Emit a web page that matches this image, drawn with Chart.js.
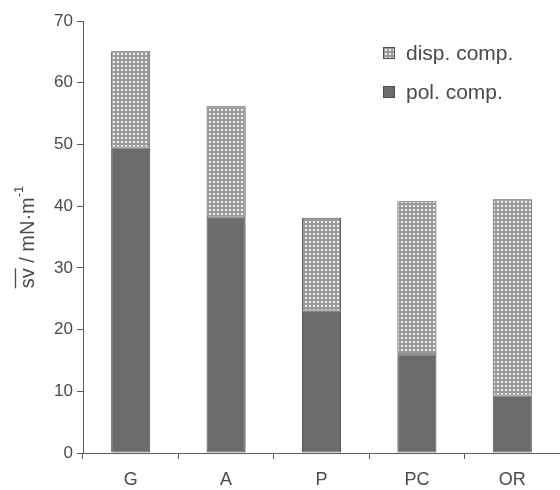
<!DOCTYPE html>
<html>
<head>
<meta charset="utf-8">
<script src="https://cdn.jsdelivr.net/npm/chart.js@4/dist/chart.umd.min.js"></script>
<style>
html,body{margin:0;padding:0;background:#fff;}
#wrap{width:560px;height:490px;}
</style>
</head>
<body>
<div id="wrap"><canvas id="c" width="560" height="490"></canvas></div>
<script>
// ---- data ----
const categories = ["G", "A", "P", "PC", "OR"];
const polComp  = [49.5, 38.1, 23.1, 16.0, 9.3];
const dispComp = [15.6, 18.1, 15.0, 24.8, 31.8];
const seriesLabels = ["pol. comp.", "disp. comp."];
const yTicks = [0, 10, 20, 30, 40, 50, 60, 70];
const yTitle = "sv / mN\u00B7m";
const yTitleSup = "-1";

// ---- styles ----
const TEXT = "#4a4a4a";
const AXIS = "#5a5a5a";
const DARK = "#6c6c6c";
const EDGE = "#505050";
const FONT = "'Liberation Sans', Arial, Helvetica, sans-serif";

function makePattern() {
  const t = document.createElement("canvas");
  t.width = 4; t.height = 4;
  const g = t.getContext("2d");
  g.fillStyle = "#9a9a9a";
  g.fillRect(0, 0, 4, 4);
  g.fillStyle = "#f0f0f0";
  g.fillRect(1, 1, 2, 2);
  return g.createPattern(t, "repeat");
}
const pattern = makePattern();

const customLegend = {
  id: "customLegend",
  afterDraw(chart) {
    const ctx = chart.ctx;
    const items = [
      {label: chart.data.datasets[1].label, fill: pattern, y: 53},
      {label: chart.data.datasets[0].label, fill: DARK, y: 92}
    ];
    ctx.save();
    items.forEach(it => {
      ctx.fillStyle = it.fill;
      ctx.fillRect(383, it.y - 6, 12, 12);
      ctx.strokeStyle = EDGE;
      ctx.lineWidth = 1;
      ctx.strokeRect(383.5, it.y - 5.5, 11, 11);
      ctx.fillStyle = TEXT;
      ctx.font = "21px " + FONT;
      ctx.textBaseline = "middle";
      ctx.textAlign = "left";
      ctx.fillText(it.label, 406, it.y + 1);
    });
    // y axis title
    const ca = chart.chartArea;
    const cy = (ca.top + ca.bottom) / 2;
    ctx.translate(27, cy);
    ctx.rotate(-Math.PI / 2);
    ctx.font = "20px " + FONT;
    const wMain = ctx.measureText(yTitle).width;
    ctx.font = "13px " + FONT;
    const wSup = ctx.measureText(yTitleSup).width;
    const total = wMain + wSup;
    const x0 = -total / 2;
    ctx.fillStyle = TEXT;
    ctx.textBaseline = "alphabetic";
    ctx.font = "20px " + FONT;
    ctx.fillText(yTitle, x0, 7);
    const wSv = ctx.measureText("sv").width;
    ctx.font = "13px " + FONT;
    ctx.fillText(yTitleSup, x0 + wMain, -4);
    ctx.strokeStyle = TEXT;
    ctx.lineWidth = 1.3;
    ctx.beginPath();
    ctx.moveTo(x0, -11.5);
    ctx.lineTo(x0 + wSv, -11.5);
    ctx.stroke();
    ctx.restore();
  }
};

new Chart(document.getElementById("c"), {
  type: "bar",
  data: {
    labels: categories,
    datasets: [
      {label: seriesLabels[0], data: polComp, backgroundColor: DARK, borderColor: EDGE, borderWidth: 1, borderSkipped: false},
      {label: seriesLabels[1], data: dispComp, backgroundColor: pattern, borderColor: EDGE, borderWidth: 1, borderSkipped: false}
    ]
  },
  options: {
    responsive: false,
    animation: false,
    layout: {padding: {top: 21, right: 0, bottom: 0, left: 0}},
    plugins: {legend: {display: false}, tooltip: {enabled: false}},
    datasets: {bar: {categoryPercentage: 1, barPercentage: 0.41}},
    scales: {
      x: {
        stacked: true,
        grid: {display: true, offset: true, drawOnChartArea: false, tickLength: 6, color: AXIS},
        border: {display: true, color: AXIS, width: 1},
        ticks: {color: TEXT, font: {family: FONT, size: 18}, padding: 10},
        afterFit(s) { s.height = 37; }
      },
      y: {
        stacked: true,
        min: 0, max: 70,
        afterBuildTicks(s) { s.ticks = yTicks.map(v => ({value: v})); },
        grid: {display: true, drawOnChartArea: false, tickLength: 6, color: AXIS},
        border: {display: true, color: AXIS, width: 1},
        ticks: {color: TEXT, font: {family: FONT, size: 17}, padding: 4},
        afterFit(s) { s.width = 83; }
      }
    }
  },
  plugins: [customLegend]
});
</script>
</body>
</html>
